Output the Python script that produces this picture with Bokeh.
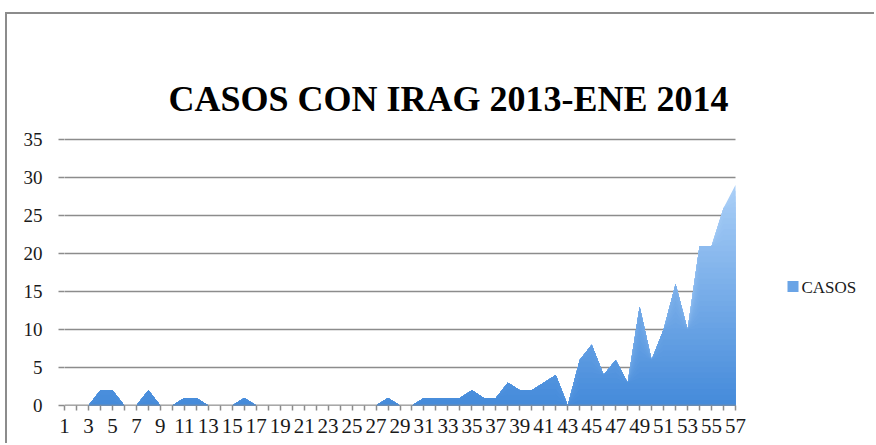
import numpy as np
from bokeh.plotting import figure
from bokeh.models import Range1d, FixedTicker, Label
from bokeh.embed import file_html
from bokeh.resources import INLINE

# ---- data ----
semanas = list(range(1, 58))
casos = [0, 0, 0, 2, 2, 0, 0, 2, 0, 0,
         1, 1, 0, 0, 0, 1, 0, 0, 0, 0,
         0, 0, 0, 0, 0, 0, 0, 1, 0, 0,
         1, 1, 1, 1, 2, 1, 1, 3, 2, 2,
         3, 4, 0, 6, 8, 4, 6, 3, 13, 6,
         10, 16, 10, 21, 21, 26, 29]
y_ticks = [0, 5, 10, 15, 20, 25, 30, 35]
titulo = "CASOS CON IRAG 2013-ENE 2014"
serie = "CASOS"

# ---- layout (canvas px) ----
W, H = 869, 431
PL, PR, PT, PB = 57, 728, 125, 391     # plot area: x=1..57, y=0..35
FRAME_R, FRAME_T = W - 6, 6            # bokeh frame extends over title/legend
SERIF = "Liberation Serif"
x0, x1 = semanas[0], semanas[-1]
y0, y1 = y_ticks[0], y_ticks[-1]
kx = (PR - PL) / (x1 - x0)
ky = (PB - PT) / (y1 - y0)
xr = Range1d(x0, x1 + (FRAME_R - PR) / kx)
yr = Range1d(y0, y1 + (PT - FRAME_T) / ky)


def dx(px):  # canvas px -> data x
    return x0 + (px - PL) / kx


def dy(py):  # canvas px -> data y
    return y0 + (PB - py) / ky


p = figure(width=W, height=H, output_backend="svg", toolbar_location=None,
           x_range=xr, y_range=yr,
           min_border_left=PL, min_border_right=W - FRAME_R,
           min_border_top=FRAME_T, min_border_bottom=H - PB,
           background_fill_color="white", border_fill_color="white")
p.styles = {"position": "relative", "top": "12px", "left": "5px",
            "border-top": "2px solid #8c8c8c", "border-left": "2px solid #8c8c8c"}
p.outline_line_color = None
p.xgrid.grid_line_color = None
p.ygrid.grid_line_color = None

GRID = "#8c8c8c"
# horizontal gridlines over the plot area only
p.segment(x0=[x0] * len(y_ticks), x1=[x1] * len(y_ticks), y0=y_ticks, y1=y_ticks,
          line_color=GRID, line_width=1.5)

# gradient-like fill: stacked clipped areas, light at top -> darker at bottom
x = np.array(semanas, dtype=float)
y = np.array(casos, dtype=float)
ymax = y.max()
c_bot = np.array([68, 138, 218])
c_top = np.array([170, 207, 247])
N = 40
for k in range(N, 0, -1):
    lvl = ymax * k / N
    t = (k - 0.5) / N
    c = (c_bot + (c_top - c_bot) * t).round().astype(int)
    col = "#%02x%02x%02x" % tuple(c)
    p.varea(x=x, y1=np.zeros_like(y), y2=np.minimum(y, lvl), fill_color=col)

# x axis line only across the categories
p.segment(x0=[x0], x1=[x1], y0=[y0], y1=[y0], line_color=GRID, line_width=1.5)

# axes
p.xaxis.ticker = FixedTicker(ticks=semanas)
p.xaxis.major_label_overrides = {s: ("" if s % 2 == 0 else str(s)) for s in semanas}
p.xaxis.major_label_text_font = SERIF
p.xaxis.major_label_text_font_size = "21px"
p.xaxis.major_label_text_color = "#1a1a1a"
p.xaxis.major_label_standoff = 8
p.xaxis.axis_line_color = None
p.xaxis.major_tick_line_color = GRID
p.xaxis.major_tick_line_width = 1.5
p.xaxis.major_tick_in = 0
p.xaxis.major_tick_out = 5
p.xaxis.minor_tick_line_color = None

p.yaxis.ticker = FixedTicker(ticks=y_ticks)
p.yaxis.major_label_text_font = SERIF
p.yaxis.major_label_text_font_size = "19px"
p.yaxis.major_label_text_color = "#1a1a1a"
p.yaxis.major_label_standoff = 16
p.yaxis.axis_line_color = None
p.yaxis.major_tick_line_color = GRID
p.yaxis.major_tick_line_width = 1.5
p.yaxis.major_tick_in = 0
p.yaxis.major_tick_out = 6
p.yaxis.minor_tick_line_color = None

# title
p.add_layout(Label(x=dx(441), y=dy(84), text=titulo,
                   text_align="center", text_baseline="alphabetic",
                   text_font=SERIF, text_font_size="36px",
                   text_font_style="bold", text_color="#000000"))

# legend: swatch + serif label
p.scatter(x=[dx(785.5)], y=[dy(272)], marker="square", size=11,
          fill_color="#6aa4e6", line_color=None)
p.add_layout(Label(x=dx(794), y=dy(273), text=serie,
                   text_align="left", text_baseline="middle",
                   text_font=SERIF, text_font_size="17px",
                   text_color="#1a1a1a"))

open("out.html", "w").write(file_html(p, INLINE))
